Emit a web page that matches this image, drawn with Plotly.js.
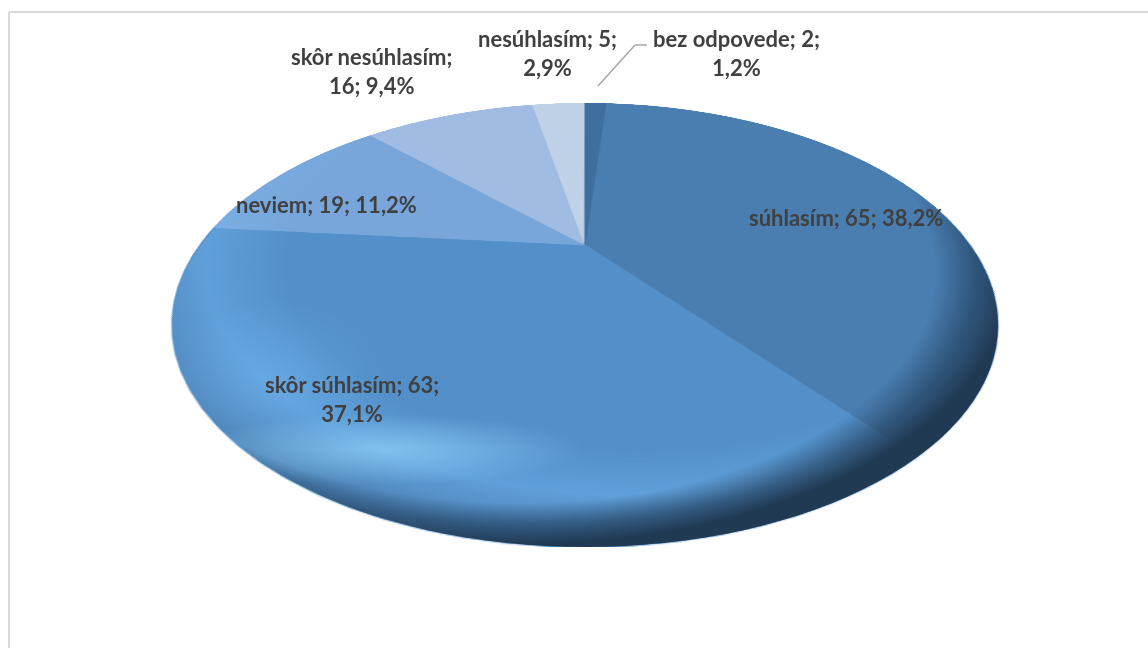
<!DOCTYPE html>
<html>
<head>
<meta charset="utf-8">
<script src="https://cdn.plot.ly/plotly-3.0.1.min.js"></script>
<style>
html,body{margin:0;padding:0;background:#fff;overflow:hidden}
#chart{position:relative;width:1148px;height:648px}
#shade{position:absolute;left:172.5px;top:103.5px;width:825px;height:443px;border-radius:50%;pointer-events:none;
background:
 radial-gradient(ellipse 60% 62% at 42% 38%, rgba(30,55,85,0) 84%, rgba(30,58,88,.6) 92%, rgba(33,58,84,1) 99%),
 radial-gradient(ellipse 24% 8% at 26% 78%, rgba(150,215,255,.6), rgba(150,215,255,0) 100%),
 radial-gradient(ellipse 14% 18% at 12% 62%, rgba(120,190,250,.3), rgba(120,190,250,0) 100%),
 radial-gradient(ellipse 62% 62% at 56% 36%, rgba(125,195,255,0) 68%, rgba(125,195,255,.3) 84%, rgba(70,110,150,.3) 100%);
}
</style>
</head>
<body>
<div id="chart"></div>
<script>
const categories = ["súhlasím","skôr súhlasím","neviem","skôr nesúhlasím","nesúhlasím","bez odpovede"];
const counts = [65,63,19,16,5,2];
const sliceColors = ["#4a7eb1","#5390c9","#78a6da","#a0bce2","#c0d2e8","#3f6f9e"];
const total = counts.reduce((a,b)=>a+b,0);
const pct = counts.map(v=>(v/total*100).toFixed(1).replace('.',','));

// label pixel anchors: [centre x, centre y, line break after which separator]
const labelPos = [
  [846,217,null],
  [352,399,"; 63;"],
  [326,205,null],
  [372,71,";"],
  [547,53,"; 5;"],
  [736,53,"; 2;"]
];
const W=1148,H=648;
const annotations = categories.map((c,i)=>{
  const p=labelPos[i];
  let text;
  if(i===3) text=c+";<br>"+counts[i]+"; "+pct[i]+"%";
  else if(p[2]) text=c+"; "+counts[i]+";<br>"+pct[i]+"%";
  else text=c+"; "+counts[i]+"; "+pct[i]+"%";
  return {text,x:p[0]/W,y:1-p[1]/H,xref:'paper',yref:'paper',xanchor:'center',yanchor:'middle',showarrow:false,align:'center',
    font:{family:'Lato, "Open Sans", sans-serif',size:22,color:'#404040',weight:700}};
});
const line=(x0,y0,x1,y1,color,w)=>({type:'line',xref:'paper',yref:'paper',x0:x0/W,y0:1-y0/H,x1:x1/W,y1:1-y1/H,layer:'above',line:{color,width:w}});

Plotly.newPlot('chart',[{
  type:'pie',labels:categories,values:counts,sort:false,direction:'clockwise',
  rotation:counts[5]/total*360,
  textinfo:'none',hoverinfo:'label+value+percent',
  marker:{colors:sliceColors,line:{width:1,color:sliceColors}},
  domain:{x:[0,1],y:[0,1]}
}],{
  width:W,height:H,margin:{l:0,r:0,t:0,b:0},showlegend:false,
  paper_bgcolor:'rgba(0,0,0,0)',plot_bgcolor:'rgba(0,0,0,0)',
  annotations,
  shapes:[
    line(9,12,1148,12,'#d9d9d9',2),
    line(9,12,9,648,'#d9d9d9',2),
    line(598,86,635,45,'#a6a6a6',1.5),
    line(635,45,647,45,'#a6a6a6',1.5)
  ]
},{displayModeBar:false}).then(gd=>{
  // perspective tilt of the circular pie: circle -> ellipse with off-centre apex
  const cd=gd.calcdata[0][0], cx=cd.cx, cy=cd.cy, R=cd.r;
  const X0=585, Yc=245, Ytop=103, Ybot=547, rx=413;
  const c=(2*Yc-Ytop-Ybot)/(Ybot-Ytop)*-1, a=Ytop*(1+c)-Yc;
  const k=rx*Math.sqrt(1-c*c);
  const w0=1+c*cy/R;
  const m=[ k/R,0,0,0,
            -X0*c/R,-a/R,0,-c/R,
            0,0,1,0,
            X0*w0-k*cx/R, Yc+a*cy/R,0,w0 ];
  const svg=gd.querySelector('.main-svg');
  svg.style.transformOrigin='0 0';
  svg.style.transform='matrix3d('+m.join(',')+')';
  const shade=document.createElement('div');
  shade.id='shade';
  svg.parentNode.insertBefore(shade,svg.nextSibling);
});
</script>
</body>
</html>
